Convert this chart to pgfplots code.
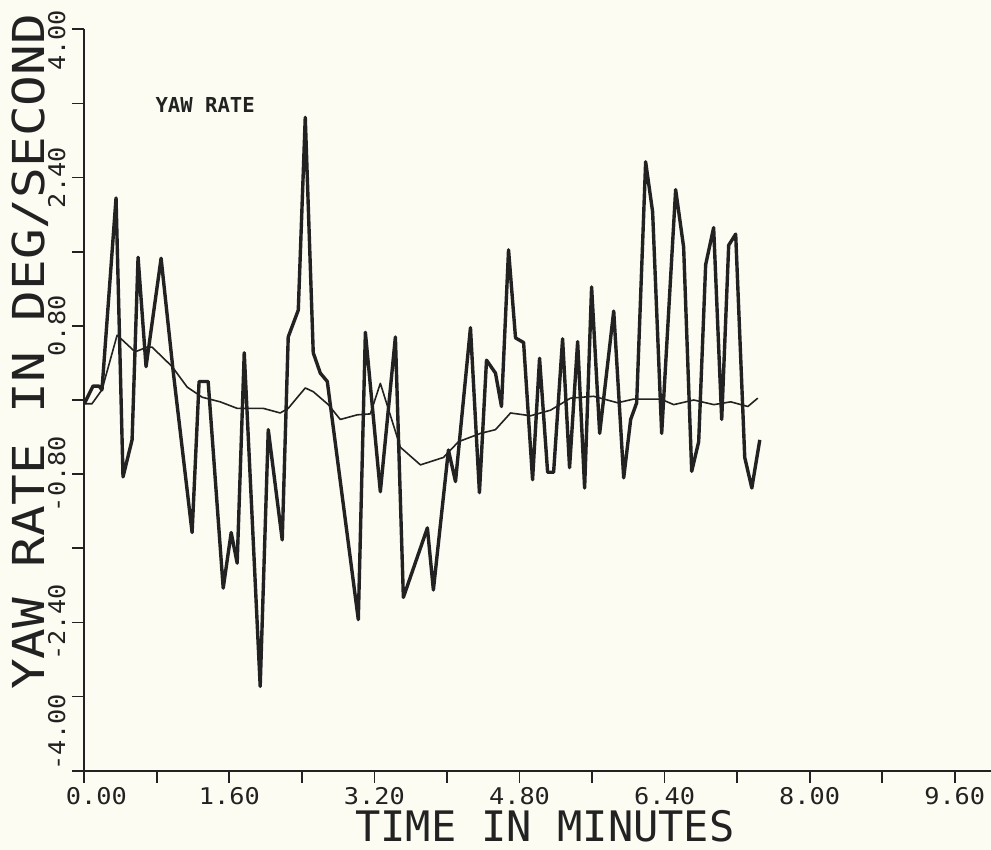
\documentclass[border=0pt]{standalone}
\usepackage{fontspec}
\usepackage{pgfplots}
\pgfplotsset{compat=1.18}
\newfontfamily\tickfont[FakeStretch=1.1]{DejaVu Sans Mono}
\newfontfamily\xlabfont[FakeStretch=1.0]{DejaVu Sans Mono}
\newfontfamily\ylabfont[FakeStretch=1.16]{DejaVu Sans Mono}
\newfontfamily\notefont{DejaVu Sans Mono}
\definecolor{paper}{HTML}{FCFCF2}
\definecolor{ink}{HTML}{222222}

\begin{document}
\begin{tikzpicture}
% page background (1 px of the reference = 0.5pt)
\fill[paper] (-42.15pt,-39.65pt) rectangle (453.35pt,385.35pt);
\begin{axis}[
  scale only axis,
  width=453.35pt, height=370.7pt,
  xmin=0, xmax=10.0,
  ymin=-4, ymax=4,
  axis x line=bottom, axis y line=left,
  axis line style={-, ink, line width=0.9pt},
  tick align=outside,
  major tick length=6pt, minor tick length=6pt,
  every tick/.style={ink, line width=0.9pt},
  xtick={1.6,3.2,4.8,6.4,8.0,9.6},
  xticklabels={1.60,3.20,4.80,6.40,8.00,9.60},
  minor xtick={0.8,2.4,4.0,5.6,7.2,8.8},
  ytick={-2.4,-0.8,0.8,2.4,4},
  yticklabels={-2.40,-0.80,0.80,2.40,4.00\kern11pt},
  minor ytick={-3.2,-1.6,0,1.6,3.2},
  extra x ticks={0}, extra x tick labels={0.00},
  extra x tick style={xticklabel style={xshift=6pt}},
  extra y ticks={-4}, extra y tick labels={-4.00},
  extra y tick style={yticklabel style={anchor=south west}},
  xticklabel style={font=\tickfont\fontsize{11.5}{11.5}\selectfont, text=ink,
    inner sep=0pt, anchor=north, yshift=-2.2pt},
  yticklabel style={font=\tickfont\fontsize{11.5}{11.5}\selectfont, text=ink,
    inner sep=0pt, xshift=-3.25pt, rotate=90, anchor=south},
  xlabel={TIME IN MINUTES},
  xlabel style={font=\xlabfont\fontsize{21}{21}\selectfont, text=ink,
    inner sep=0pt, at={(axis description cs:0.508,-0.0748)}, anchor=center},
  ylabel={YAW RATE IN DEG/SECOND},
  ylabel style={font=\ylabfont\fontsize{22}{22}\selectfont, text=ink,
    inner sep=0pt, at={(axis description cs:-0.0593,0.5648)}, anchor=center},
]

% yaw rate, raw
\addplot[ink, line width=1.7pt, line join=round] coordinates {
  (0.00,-0.04) (0.096,0.15) (0.162,0.15) (0.195,0.11) (0.350,2.18)
  (0.427,-0.83) (0.527,-0.43) (0.593,1.54) (0.681,0.36) (0.847,1.53)
  (0.979,0.32) (1.189,-1.43) (1.266,0.20) (1.366,0.20) (1.532,-2.03)
  (1.620,-1.43) (1.686,-1.76) (1.764,0.51) (1.940,-3.09) (2.029,-0.32)
  (2.183,-1.51) (2.249,0.68) (2.360,0.97) (2.437,3.05) (2.525,0.51)
  (2.603,0.29) (2.680,0.20) (3.022,-2.37) (3.100,0.73) (3.265,-0.99)
  (3.431,0.68) (3.519,-2.13) (3.784,-1.38) (3.850,-2.05) (4.016,-0.54)
  (4.094,-0.88) (4.259,0.78) (4.358,-1.00) (4.436,0.43) (4.535,0.29)
  (4.601,-0.07) (4.679,1.62) (4.756,0.67) (4.845,0.62) (4.944,-0.86)
  (5.021,0.45) (5.110,-0.78) (5.176,-0.78) (5.275,0.66) (5.352,-0.73)
  (5.441,0.63) (5.518,-0.95) (5.595,1.22) (5.684,-0.36) (5.839,0.96)
  (5.949,-0.84) (6.026,-0.21) (6.092,-0.03) (6.191,2.57) (6.268,2.03)
  (6.368,-0.36) (6.522,2.27) (6.610,1.65) (6.699,-0.77) (6.776,-0.45)
  (6.853,1.46) (6.941,1.86) (7.030,-0.21) (7.107,1.67) (7.184,1.79)
  (7.284,-0.62) (7.362,-0.95) (7.450,-0.43)
};

% yaw rate, smoothed
\addplot[ink, line width=0.8pt, line join=round] coordinates {
  (0.00,-0.04) (0.085,-0.04) (0.195,0.11) (0.362,0.70) (0.560,0.52)
  (0.693,0.57) (0.748,0.57) (0.969,0.36) (1.134,0.14) (1.300,0.03)
  (1.499,-0.02) (1.686,-0.09) (1.973,-0.09) (2.161,-0.14) (2.249,-0.09)
  (2.437,0.13) (2.525,0.09) (2.691,-0.05) (2.823,-0.21) (3.011,-0.16)
  (3.155,-0.15) (3.265,0.18) (3.486,-0.51) (3.707,-0.70) (3.961,-0.62)
  (4.127,-0.45) (4.370,-0.36) (4.535,-0.32) (4.701,-0.14) (4.922,-0.17)
  (5.142,-0.11) (5.363,0.02) (5.617,0.04) (5.882,-0.03) (6.059,0.01)
  (6.357,0.01) (6.501,-0.05) (6.722,0.00) (6.943,-0.05) (7.130,-0.02)
  (7.318,-0.07) (7.428,0.02)
};

\node[font=\notefont\bfseries\fontsize{10.3}{10.3}\selectfont, text=ink]
  at (axis cs:1.333,3.18) {YAW RATE};
\end{axis}
\pgfresetboundingbox
\path (-42.15pt,-39.65pt) rectangle (453.35pt,385.35pt);
\end{tikzpicture}
\end{document}
